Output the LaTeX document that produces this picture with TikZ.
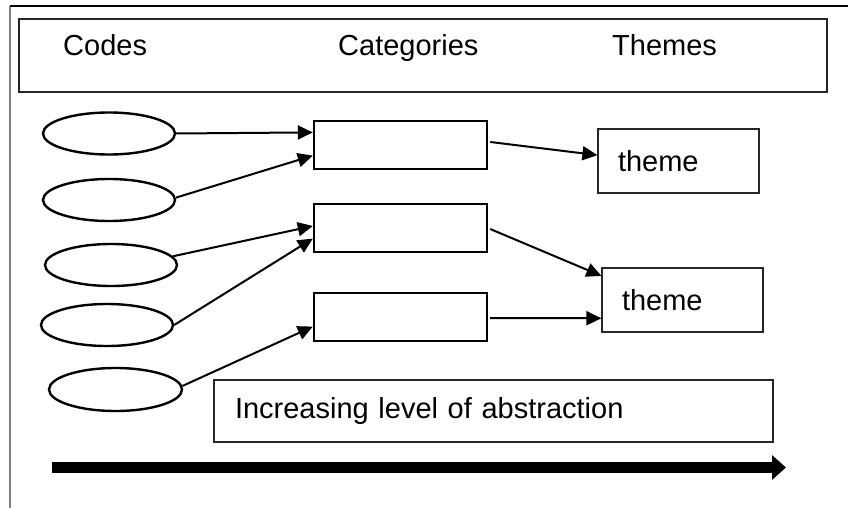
\documentclass[tikz,border=0pt]{standalone}
\usepackage{fontspec}
\setmainfont{Liberation Sans}
\usetikzlibrary{arrows.meta,calc,shapes.geometric}
\begin{document}
\begin{tikzpicture}[x=1pt,y=-1pt,
  every node/.style={font=\fontsize{29}{34}\selectfont},
  codeell/.style={draw,ellipse,line width=2.4pt,minimum width=132pt,minimum height=42pt,inner sep=0pt},
  catbox/.style={draw,rectangle,line width=2.4pt,minimum width=173pt,minimum height=48pt,inner sep=0pt},
  themebox/.style={draw=black!85,rectangle,line width=1.2pt,minimum width=161pt,minimum height=64pt,inner xsep=20pt,text width=121pt,align=left},
  thinbox/.style={draw=black!85,rectangle,line width=1.2pt,inner sep=0pt},
  conn/.style={line width=2pt,-{Triangle[length=15pt,width=14pt]}},
  hdr/.style={anchor=base west,inner sep=0pt}
]
\useasboundingbox (0,0) rectangle (848,508);
% outer frame
\coordinate (fl1) at (10,508);
\coordinate (fl2) at (10,6);
\coordinate (fl3) at (848,6);
\draw[black!50,line width=1.2pt] (fl1) -- (fl2);
\draw[black,line width=1.2pt] (fl2) -- (fl3);
% header
\node[thinbox,minimum width=808pt,minimum height=73pt] (head) at (423,55.5) {};
\node[hdr] (hc) at (63,56) {Codes};
\node[hdr] (hk) at (338,56) {Categories};
\node[hdr] (ht) at (612,56) {Themes};
% codes
\node[codeell] (e1) at (109,133.5) {};
\node[codeell] (e2) at (109,200) {};
\node[codeell] (e3) at (111,265) {};
\node[codeell] (e4) at (107,325) {};
\node[codeell,minimum width=133pt,minimum height=43pt] (e5) at (115.5,389.5) {};
% categories
\node[catbox] (c1) at (400.5,145) {};
\node[catbox] (c2) at (400.5,228) {};
\node[catbox] (c3) at (400.5,317) {};
% themes
\node[themebox] (t1) at (678.5,161) {theme};
\node[themebox] (t2) at (682.5,300) {theme};
% abstraction box
\node[thinbox,minimum width=559pt,minimum height=62pt,text width=517pt,inner xsep=21pt,align=left] (abs) at (493.5,411) {Increasing level of abstraction};
% connectors
\draw[conn] (e1.east) -- ($(c1.north west)!0.25!(c1.south west)$);
\draw[conn] (e2.2) -- ($(c1.north west)!0.71!(c1.south west)$);
\draw[conn] (e3.8) -- ($(c2.north west)!0.46!(c2.south west)$);
\draw[conn] (e4.east) -- ($(c2.north west)!0.71!(c2.south west)$);
\draw[conn] (e5.3) -- ($(c3.north west)!0.69!(c3.south west)$);
\draw[conn] ($(c1.north east)!0.44!(c1.south east)+(2,0)$) -- ($(t1.north west)!0.41!(t1.south west)$);
\draw[conn] ($(c2.north east)!0.52!(c2.south east)+(2,0)$) -- ($(t2.north west)!0.13!(t2.south west)$);
\draw[conn] ($(c3.north east)!0.52!(c3.south east)+(2,0)$) -- ($(t2.north west)!0.78!(t2.south west)$);
% big arrow
\coordinate (ba1) at (52,467.5);
\coordinate (ba2) at (786,467.5);
\draw[line width=11pt,-{Triangle[length=14pt,width=24pt]}] (ba1) -- (ba2);
\end{tikzpicture}
\end{document}
